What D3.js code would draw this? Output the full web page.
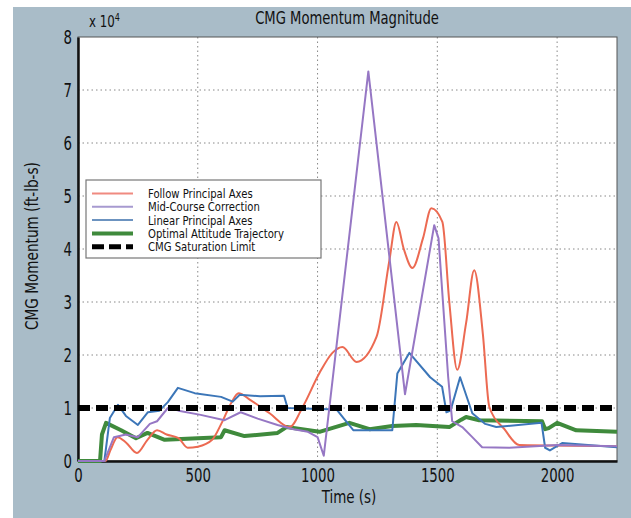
<!DOCTYPE html>
<html>
<head>
<meta charset="utf-8">
<script src="https://cdn.jsdelivr.net/npm/d3@7"></script>
<style>
  body { margin: 0; background: #fff; }
  svg text { font-family: "DejaVu Sans Condensed", "DejaVu Sans", sans-serif; font-stretch: condensed; fill: #111; }
</style>
</head>
<body>
<svg id="chart" width="631" height="518"></svg>
<script>
// Time (s) and momentum (x 10^4 ft-lb-s)
const redT = [0, 115, 135, 165, 200, 246, 290, 330, 370, 420, 458, 500, 560, 600, 640, 670, 720, 800, 883, 938, 1008, 1062, 1104, 1163, 1246, 1300, 1329, 1360, 1396, 1440, 1475, 1521, 1550, 1583, 1620, 1654, 1690, 1717, 1780, 1842, 2250];
const redV = [0, 0, 0.2, 0.45, 0.35, 0.15, 0.4, 0.58, 0.5, 0.43, 0.25, 0.27, 0.4, 0.72, 1.1, 1.28, 1.15, 0.9, 0.64, 1.02, 1.66, 2.04, 2.15, 1.87, 2.34, 3.79, 4.51, 4.0, 3.64, 4.2, 4.77, 4.51, 3.0, 1.72, 2.6, 3.6, 2.4, 1.02, 0.6, 0.3, 0.28];

const purpleT = [0, 110, 150, 200, 250, 300, 330, 375, 420, 512, 612, 679, 750, 833, 900, 960, 1000, 1026, 1212, 1365, 1487, 1505, 1545, 1562, 1604, 1646, 1687, 1800, 2000, 2250];
const purpleV = [0, 0, 0.45, 0.5, 0.45, 0.7, 0.75, 1.0, 0.95, 0.87, 0.77, 0.92, 0.8, 0.68, 0.6, 0.55, 0.45, 0.1, 7.35, 1.26, 4.45, 4.2, 1.6, 0.75, 0.64, 0.45, 0.26, 0.25, 0.3, 0.28];

const blueT = [0, 110, 133, 167, 200, 250, 292, 340, 375, 417, 487, 597, 646, 675, 760, 860, 875, 1080, 1110, 1150, 1312, 1333, 1383, 1470, 1520, 1538, 1555, 1595, 1646, 1700, 1746, 1935, 1950, 1970, 2021, 2250];
const blueV = [0, 0, 0.81, 1.06, 0.85, 0.68, 0.92, 0.95, 1.11, 1.38, 1.28, 1.21, 1.12, 1.25, 1.22, 1.23, 1.0, 0.97, 0.8, 0.58, 0.58, 1.65, 2.04, 1.58, 1.4, 0.92, 0.95, 1.58, 0.9, 0.7, 0.64, 0.72, 0.25, 0.2, 0.34, 0.26];

const greenT = [0, 92, 100, 117, 180, 242, 290, 362, 500, 597, 612, 695, 833, 870, 1008, 1133, 1217, 1312, 1412, 1550, 1600, 1620, 1675, 1937, 1950, 1965, 2000, 2080, 2250];
const greenV = [0, 0, 0.5, 0.72, 0.58, 0.43, 0.53, 0.4, 0.43, 0.45, 0.58, 0.47, 0.53, 0.64, 0.55, 0.72, 0.6, 0.66, 0.68, 0.64, 0.78, 0.83, 0.77, 0.75, 0.6, 0.62, 0.72, 0.58, 0.55];

const saturationLimit = 1;

const xTicks = [0, 500, 1000, 1500, 2000];
const yTicks = [0, 1, 2, 3, 4, 5, 6, 7, 8];

const legendNames = ["Follow Principal Axes", "Mid-Course Correction", "Linear Principal Axes", "Optimal Attitude Trajectory", "CMG Saturation Limit"];

const svg = d3.select("#chart");
const plotL = 78, plotR = 617, plotT = 37, plotB = 461;

const x = d3.scaleLinear().domain([0, 2250]).range([plotL, plotR]);
const y = d3.scaleLinear().domain([0, 8]).range([plotB, plotT]);

// squeeze text horizontally, the original uses a condensed face
function narrow(sel, k) {
    sel.each(function () {
        const w = this.getComputedTextLength();
        d3.select(this).attr("textLength", w * k).attr("lengthAdjust", "spacingAndGlyphs");
    });
}

// background panel
svg.append("rect").attr("x", 13).attr("y", 7).attr("width", 618).attr("height", 511).attr("fill", "#a9bcc8");
svg.append("rect").attr("x", plotL).attr("y", plotT).attr("width", plotR - plotL).attr("height", plotB - plotT).attr("fill", "#fff");

// grid
svg.append("g").selectAll("line").data(xTicks.slice(1)).join("line")
    .attr("x1", d => x(d)).attr("x2", d => x(d)).attr("y1", plotT).attr("y2", plotB)
    .attr("stroke", "#888").attr("stroke-width", 1).attr("stroke-dasharray", "1.5,3");
svg.append("g").selectAll("line").data(yTicks.slice(1, -1)).join("line")
    .attr("x1", plotL).attr("x2", plotR).attr("y1", d => y(d)).attr("y2", d => y(d))
    .attr("stroke", "#888").attr("stroke-width", 1).attr("stroke-dasharray", "1.5,3");

// frame
svg.append("rect").attr("x", plotL).attr("y", plotT).attr("width", plotR - plotL).attr("height", plotB - plotT)
    .attr("fill", "none").attr("stroke", "#555").attr("stroke-width", 1);

// axes
const xAxis = svg.append("g").attr("transform", `translate(0,${plotB})`)
    .call(d3.axisBottom(x).tickValues(xTicks).tickFormat(d3.format("d")).tickSize(0).tickPadding(8));
const yAxis = svg.append("g").attr("transform", `translate(${plotL},0)`)
    .call(d3.axisLeft(y).tickValues(yTicks).tickSize(0).tickPadding(6));
[xAxis, yAxis].forEach(a => {
    a.select(".domain").attr("stroke", "#111").attr("stroke-width", 2.5);
    a.selectAll("text").style("font-size", "19px").attr("fill", "#111").call(narrow, 0.78);
});
yAxis.selectAll("text").attr("dy", "0.35em");

// series
const zip = (t, v) => t.map((d, i) => [d, v[i]]);
const smooth = d3.line().x(d => x(d[0])).y(d => y(d[1])).curve(d3.curveMonotoneX);
const sharp = d3.line().x(d => x(d[0])).y(d => y(d[1]));

const series = [
    { t: greenT, v: greenV, color: "#3f8a3c", w: 4, gen: sharp },
    { t: redT, v: redV, color: "#ec6a52", w: 2, gen: smooth },
    { t: blueT, v: blueV, color: "#3c76b8", w: 2, gen: sharp },
    { t: purpleT, v: purpleV, color: "#9677c4", w: 2, gen: sharp }
];
series.forEach(s => {
    svg.append("path").datum(zip(s.t, s.v)).attr("d", s.gen)
        .attr("fill", "none").attr("stroke", s.color).attr("stroke-width", s.w)
        .attr("stroke-linejoin", "round");
});

// saturation limit
svg.append("line")
    .attr("x1", x(0)).attr("x2", x(2250)).attr("y1", y(saturationLimit)).attr("y2", y(saturationLimit))
    .attr("stroke", "#000").attr("stroke-width", 6).attr("stroke-dasharray", "12,6");

// legend
const lg = svg.append("g");
lg.append("rect").attr("x", 86).attr("y", 180).attr("width", 235).attr("height", 78)
    .attr("fill", "#fff").attr("stroke", "#777").attr("stroke-width", 1.2);
const legendStyle = [
    { color: "#f08a80", w: 2, dash: null },
    { color: "#a79ad0", w: 2, dash: null },
    { color: "#6c93c0", w: 2, dash: null },
    { color: "#3f8a3c", w: 4, dash: null },
    { color: "#000", w: 5, dash: "12,5" }
];
legendNames.forEach((name, i) => {
    const yy = 193.5 + i * 13.3;
    lg.append("line").attr("x1", 92).attr("x2", 133).attr("y1", yy).attr("y2", yy)
        .attr("stroke", legendStyle[i].color).attr("stroke-width", legendStyle[i].w)
        .attr("stroke-dasharray", legendStyle[i].dash);
    lg.append("text").attr("x", 148).attr("y", yy).attr("dy", "0.36em")
        .style("font-size", "13px").text(name).call(narrow, 0.86);
});

// titles
svg.append("text").attr("x", 347).attr("y", 24).attr("text-anchor", "middle")
    .style("font-size", "17px").text("CMG Momentum Magnitude").call(narrow, 0.86);
const mult = svg.append("text").attr("x", 89).attr("y", 27).style("font-size", "16px");
mult.append("tspan").text("x 10");
mult.append("tspan").attr("dy", -6).style("font-size", "11px").text("4");
mult.attr("transform", "translate(89,27) scale(0.82,1) translate(-89,-27)");
svg.append("text").attr("x", 349).attr("y", 503).attr("text-anchor", "middle")
    .style("font-size", "17px").text("Time (s)").call(narrow, 0.88);
svg.append("text").attr("transform", "translate(38,246) rotate(-90)").attr("text-anchor", "middle")
    .style("font-size", "17px").text("CMG Momentum (ft-lb-s)").call(narrow, 0.89);
</script>
</body>
</html>
